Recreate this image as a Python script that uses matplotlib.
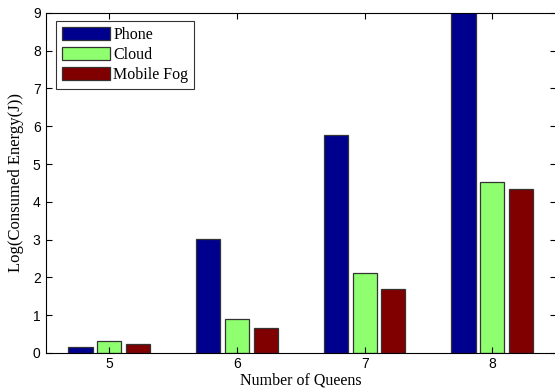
import matplotlib
matplotlib.use("Agg")
import matplotlib.pyplot as plt
import numpy as np

queens = [5, 6, 7, 8]
phone = [0.17, 3.02, 5.77, 9.5]
cloud = [0.32, 0.90, 2.12, 4.52]
mobile_fog = [0.24, 0.66, 1.70, 4.33]
series_names = ["Phone", "Cloud", "Mobile Fog"]
colors = ["#00008F", "#8FFF70", "#800000"]

plt.rcParams['font.family'] = ['Liberation Serif', 'DejaVu Serif']
fig = plt.figure(figsize=(5.55, 3.9), dpi=100)
ax = fig.add_axes([0.082, 0.095, 0.92, 0.872])

x = np.array(queens, dtype=float)
w = 0.19
offsets = [-0.225, 0.0, 0.225]
for vals, name, c, off in zip([phone, cloud, mobile_fog], series_names, colors, offsets):
    ax.bar(x + off, vals, width=w, color=c, edgecolor="#333333", linewidth=0.9, label=name)

ax.set_xlim(4.5, 8.5)
ax.set_ylim(0, 9)
ax.set_xticks(queens)
ax.set_yticks(range(0, 10))
ax.tick_params(direction="in", length=4, labelsize=10, top=True, right=True, width=0.8)
ax.tick_params(axis="x", pad=3)
for lab in ax.get_xticklabels() + ax.get_yticklabels():
    lab.set_family(['Liberation Sans', 'DejaVu Sans'])
for s in ax.spines.values():
    s.set_linewidth(0.8)
ax.set_xlabel("Number of Queens", fontsize=11.5, labelpad=1)
ax.set_ylabel("Log(Consumed Energy(J))", fontsize=12, labelpad=6)

leg = ax.legend(loc="upper left", bbox_to_anchor=(0.012, 0.99), fontsize=11.5, frameon=True,
                fancybox=False, edgecolor="black", handlelength=3.0, handleheight=0.9,
                borderpad=0.35, labelspacing=0.25, handletextpad=0.2, borderaxespad=0.3)
leg.get_frame().set_linewidth(0.8)

fig.savefig("out.png", dpi=100)
